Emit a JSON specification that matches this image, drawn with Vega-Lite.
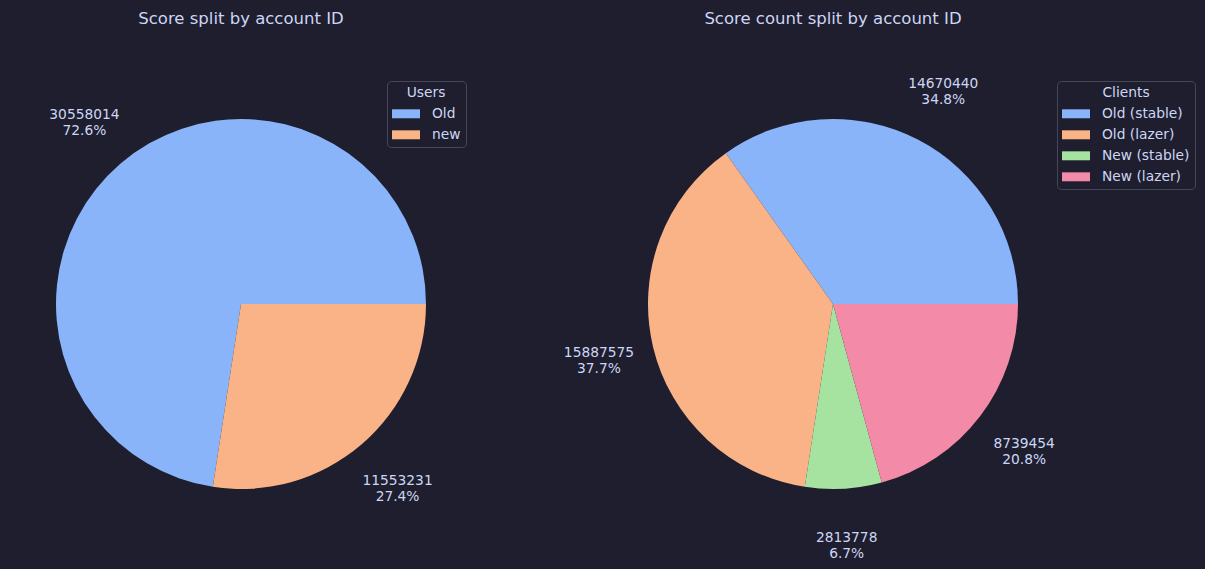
{
  "$schema": "https://vega.github.io/schema/vega-lite/v6.json",
  "background": "#1e1e2e",
  "padding": {"left": 0, "top": 10, "right": 10, "bottom": 0},
  "autosize": {"type": "pad"},
  "spacing": 110,
  "bounds": "flush",
  "config": {
    "view": {"stroke": null, "fill": "#1e1e2e"},
    "font": "DejaVu Sans",
    "title": {"font": "DejaVu Sans", "fontSize": 16.5, "fontWeight": "normal", "color": "#cdd6f4", "anchor": "middle", "frame": "group", "offset": 12},
    "legend": {
      "orient": "none",
      "labelFont": "DejaVu Sans", "labelFontSize": 13.8, "labelColor": "#cdd6f4",
      "titleFont": "DejaVu Sans", "titleFontSize": 13.8, "titleColor": "#cdd6f4", "titleFontWeight": "normal",
      "titleAnchor": "middle", "titlePadding": 0,
      "symbolType": "M-1,-0.32H1V0.32H-1Z", "symbolSize": 784, "symbolStrokeWidth": 0, "symbolOpacity": 1,
      "labelOffset": 12, "rowPadding": 0, "padding": 5,
      "strokeColor": "#45475a", "fillColor": "#1e1e2e", "cornerRadius": 4
    }
  },
  "datasets": {
    "users": [
      {"group": "Old", "idx": 0, "count": 30558014, "pct": 72.6},
      {"group": "new", "idx": 1, "count": 11553231, "pct": 27.4}
    ],
    "clients": [
      {"group": "Old (stable)", "idx": 0, "count": 14670440, "pct": 34.8},
      {"group": "Old (lazer)", "idx": 1, "count": 15887575, "pct": 37.7},
      {"group": "New (stable)", "idx": 2, "count": 2813778, "pct": 6.7},
      {"group": "New (lazer)", "idx": 3, "count": 8739454, "pct": 20.8}
    ]
  },
  "resolve": {"scale": {"color": "independent", "theta": "independent"}, "legend": {"color": "independent"}},
  "hconcat": [
    {
      "width": 482,
      "height": 530,
      "title": {"text": "Score split by account ID"},
      "data": {"name": "users"},
      "transform": [
        {"calculate": "format(datum.count, 'd') + '\\n' + format(datum.pct, '.1f') + '%'", "as": "label"}
      ],
      "encoding": {
        "theta": {"field": "count", "type": "quantitative", "stack": true, "scale": {"range": [1.5707963, 7.8539816]}},
        "order": {"field": "idx", "type": "quantitative", "sort": "descending"}
      },
      "layer": [
        {
          "mark": {"type": "arc", "outerRadius": 185},
          "encoding": {
            "color": {
              "field": "group", "type": "nominal",
              "scale": {"domain": ["Old", "new"], "range": ["#89b4fa", "#fab387"]},
              "legend": {"title": "Users", "legendX": 387, "legendY": 42, "symbolType": "M-1,-0.32H1V0.32H-1Z"}
            }
          }
        },
        {
          "mark": {"type": "text", "radius": 240.5, "align": "center", "baseline": "middle", "lineBreak": "\n", "lineHeight": 16, "dy": -6, "fontSize": 13.8, "font": "DejaVu Sans", "color": "#cdd6f4"},
          "encoding": {"text": {"field": "label", "type": "nominal"}}
        }
      ]
    },
    {
      "width": 482,
      "height": 530,
      "title": {"text": "Score count split by account ID"},
      "data": {"name": "clients"},
      "transform": [
        {"calculate": "format(datum.count, 'd') + '\\n' + format(datum.pct, '.1f') + '%'", "as": "label"}
      ],
      "encoding": {
        "theta": {"field": "count", "type": "quantitative", "stack": true, "scale": {"range": [1.5707963, 7.8539816]}},
        "order": {"field": "idx", "type": "quantitative", "sort": "descending"}
      },
      "layer": [
        {
          "mark": {"type": "arc", "outerRadius": 185},
          "encoding": {
            "color": {
              "field": "group", "type": "nominal",
              "scale": {"domain": ["Old (stable)", "Old (lazer)", "New (stable)", "New (lazer)"], "range": ["#89b4fa", "#fab387", "#a6e3a1", "#f38ba8"]},
              "legend": {"title": "Clients", "legendX": 465, "legendY": 42, "symbolType": "M-1,-0.32H1V0.32H-1Z"}
            }
          }
        },
        {
          "mark": {"type": "text", "radius": 240.5, "align": "center", "baseline": "middle", "lineBreak": "\n", "lineHeight": 16, "dy": -6, "fontSize": 13.8, "font": "DejaVu Sans", "color": "#cdd6f4"},
          "encoding": {"text": {"field": "label", "type": "nominal"}}
        }
      ]
    }
  ]
}
